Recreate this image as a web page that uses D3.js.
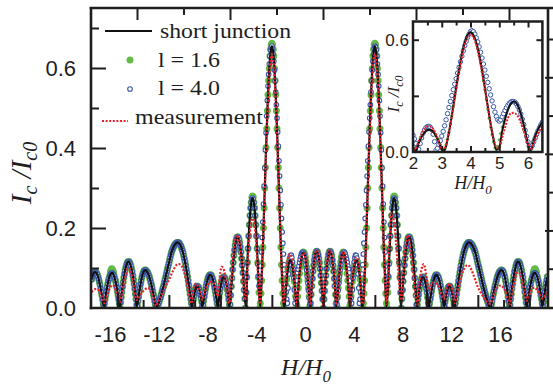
<!DOCTYPE html>
<html><head><meta charset="utf-8">
<script src="https://cdn.jsdelivr.net/npm/d3@7"></script>
<style>html,body{margin:0;padding:0;background:#fff;}svg{display:block;}</style>
</head><body>
<script>
// ---------- DATA ----------
// line grid H/H0 : -18.0 ... 17.4, step 0.1
const fieldH = d3.range(355).map(i => +(-18 + i * 0.1).toFixed(2));
// marker grid H/H0 : -18.00 ... 17.40, step 0.05
const markerH = d3.range(709).map(i => +(-18 + i * 0.05).toFixed(2));

const shortJunction = [
.072,.083,.089,.090,.086,.078,.065,.049,.031,.012,
.004,.032,.052,.068,.080,.086,.088,.084,.074,.060,
.042,.022,.002,.027,.053,.076,.094,.107,.115,.116,
.110,.098,.081,.060,.035,.002,.017,.040,.060,.077,
.088,.094,.095,.091,.085,.076,.064,.050,.034,.017,
.002,.004,.012,.022,.033,.045,.057,.071,.085,.099,
.112,.126,.139,.148,.155,.160,.163,.164,.162,.157,
.149,.138,.124,.107,.089,.068,.046,.023,.002,.021,
.038,.050,.055,.052,.041,.024,.003,.018,.038,.056,
.070,.079,.083,.081,.073,.060,.042,.022,.002,.026,
.049,.066,.076,.077,.070,.055,.033,.002,.032,.075,
.114,.145,.167,.177,.176,.163,.140,.107,.067,.023,
.004,.114,.180,.231,.264,.275,.264,.231,.180,.114,
.039,.003,.069,.152,.250,.351,.448,.533,.599,.640,
.655,.640,.599,.533,.448,.351,.250,.152,.069,.012,
.003,.056,.086,.108,.119,.118,.105,.081,.049,.003,
.029,.069,.102,.126,.138,.138,.126,.102,.069,.029,
.003,.055,.092,.120,.137,.142,.133,.113,.081,.043,
0,.043,.081,.113,.133,.142,.137,.120,.092,.055,
.003,.029,.069,.102,.126,.138,.138,.126,.102,.069,
.029,.003,.049,.081,.105,.118,.119,.108,.086,.056,
.003,.012,.069,.152,.250,.351,.448,.533,.599,.640,
.655,.640,.599,.533,.448,.351,.250,.152,.069,.003,
.039,.114,.180,.231,.264,.275,.264,.231,.180,.114,
.004,.023,.067,.107,.140,.163,.176,.177,.167,.145,
.114,.075,.032,.002,.033,.055,.070,.077,.076,.066,
.049,.026,.002,.022,.042,.060,.073,.081,.083,.079,
.070,.056,.038,.018,.003,.024,.041,.052,.055,.050,
.038,.021,.002,.023,.046,.068,.089,.107,.124,.138,
.149,.157,.162,.164,.163,.160,.155,.148,.139,.126,
.112,.099,.085,.071,.057,.045,.033,.022,.012,.004,
.002,.017,.034,.050,.064,.076,.085,.091,.095,.094,
.088,.077,.060,.040,.017,.002,.035,.060,.081,.098,
.110,.116,.115,.107,.094,.076,.053,.027,.002,.022,
.042,.060,.074,.084,.088,.086,.080,.068,.052,.032,
.004,.015,.040,.062,.078];

const measurement = [
.040,.043,.046,.047,.047,.046,.042,.036,.028,.018,
.012,.020,.030,.040,.048,.054,.057,.056,.050,.042,
.032,.022,.015,.028,.045,.062,.077,.090,.098,.100,
.095,.084,.068,.050,.030,.020,.022,.027,.033,.038,
.042,.045,.048,.050,.050,.047,.042,.034,.025,.015,
.005,.010,.018,.026,.032,.038,.044,.050,.057,.063,
.070,.077,.085,.092,.098,.104,.108,.110,.110,.108,
.104,.097,.088,.075,.060,.045,.030,.015,.012,.045,
.058,.061,.058,.052,.042,.030,.020,.028,.040,.050,
.058,.063,.065,.065,.064,.060,.052,.040,.030,.060,
.090,.103,.101,.092,.075,.055,.030,.012,.045,.088,
.128,.158,.176,.182,.176,.160,.135,.100,.060,.020,
.030,.095,.150,.190,.215,.224,.218,.192,.150,.095,
.035,.010,.067,.147,.242,.340,.434,.517,.581,.621,
.635,.621,.581,.517,.434,.340,.242,.147,.067,.012,
.030,.080,.115,.132,.135,.130,.115,.088,.050,.006,
.030,.070,.103,.126,.137,.136,.125,.103,.070,.030,
.008,.057,.094,.122,.140,.145,.136,.115,.083,.045,
.005,.045,.083,.115,.136,.145,.140,.122,.094,.057,
.008,.030,.070,.103,.127,.139,.139,.127,.103,.070,
.030,.006,.052,.086,.112,.126,.127,.115,.092,.060,
.010,.012,.067,.147,.242,.340,.434,.517,.581,.621,
.635,.621,.581,.517,.434,.340,.242,.147,.067,.010,
.050,.140,.205,.237,.232,.212,.180,.140,.098,.058,
.020,.025,.075,.120,.158,.180,.180,.165,.140,.110,
.080,.050,.022,.010,.040,.070,.092,.106,.110,.100,
.080,.058,.045,.050,.058,.062,.064,.063,.060,.056,
.050,.042,.033,.025,.022,.035,.048,.057,.060,.057,
.046,.030,.012,.022,.038,.052,.066,.078,.088,.096,
.102,.106,.107,.106,.102,.096,.088,.079,.070,.061,
.053,.046,.040,.034,.029,.024,.020,.016,.013,.011,
.012,.020,.030,.038,.045,.050,.054,.056,.056,.054,
.050,.044,.036,.026,.016,.010,.028,.046,.062,.076,
.086,.090,.089,.083,.073,.060,.045,.030,.018,.025,
.033,.040,.046,.050,.051,.049,.045,.040,.034,.028,
.024,.026,.030,.034,.038];

const l16 = [
.072,.078,.083,.086,.089,.090,.090,.089,.086,.083,.078,.072,.065,.058,.049,.040,.031,.021,.010,0,
.011,.022,.032,.042,.052,.060,.068,.074,.080,.090,.094,.098,.097,.093,.089,.080,.074,.068,.060,.052,
.042,.032,.022,.011,0,.014,.027,.040,.053,.065,.076,.085,.094,.101,.107,.112,.115,.116,.116,.114,
.110,.105,.098,.091,.081,.071,.060,.048,.035,.022,.008,.005,.017,.028,.040,.050,.060,.069,.077,.083,
.088,.092,.094,.095,.095,.093,.091,.089,.085,.081,.076,.070,.064,.057,.050,.042,.034,.026,.017,.009,
.004,.001,.004,.008,.012,.017,.022,.027,.033,.039,.045,.051,.057,.064,.071,.078,.085,.092,.099,.105,
.112,.119,.126,.133,.139,.144,.148,.152,.155,.158,.160,.162,.163,.164,.164,.164,.162,.160,.157,.154,
.149,.144,.138,.131,.124,.116,.107,.098,.089,.079,.068,.057,.046,.035,.023,.012,0,.010,.021,.030,
.038,.045,.050,.054,.055,.054,.052,.047,.041,.033,.024,.015,.004,.007,.018,.028,.038,.048,.056,.064,
.070,.076,.079,.082,.083,.083,.081,.077,.073,.067,.060,.051,.042,.032,.022,.011,0,.013,.026,.038,
.049,.058,.066,.072,.076,.078,.077,.075,.070,.063,.055,.045,.033,.021,.008,.009,.032,.054,.075,.096,
.114,.131,.145,.157,.167,.173,.177,.178,.176,.171,.163,.153,.140,.124,.107,.088,.067,.045,.023,0,
.039,.077,.114,.149,.180,.208,.231,.250,.264,.277,.280,.277,.264,.250,.231,.208,.180,.149,.114,.077,
.039,0,.012,.036,.069,.108,.152,.200,.250,.300,.351,.401,.448,.493,.533,.569,.599,.630,.647,.658,
.662,.658,.647,.630,.599,.569,.533,.493,.448,.401,.351,.300,.250,.200,.152,.108,.069,.036,.012,0,
.019,.038,.056,.072,.086,.098,.108,.115,.119,.120,.118,.113,.105,.094,.081,.066,.049,.030,.012,.005,
.029,.050,.069,.086,.102,.115,.126,.134,.138,.140,.138,.134,.126,.115,.102,.086,.069,.050,.029,.005,
.012,.034,.055,.074,.092,.107,.120,.130,.137,.141,.142,.139,.133,.124,.113,.098,.081,.063,.043,.022,
0,.022,.043,.063,.081,.098,.113,.124,.133,.139,.142,.141,.137,.130,.120,.107,.092,.074,.055,.034,
.012,.005,.029,.050,.069,.086,.102,.115,.126,.134,.138,.140,.138,.134,.126,.115,.102,.086,.069,.050,
.029,.005,.012,.030,.049,.066,.081,.094,.105,.113,.118,.120,.119,.115,.108,.098,.086,.072,.056,.038,
.019,0,.012,.036,.069,.108,.152,.200,.250,.300,.351,.401,.448,.493,.533,.569,.599,.630,.647,.658,
.662,.658,.647,.630,.599,.569,.533,.493,.448,.401,.351,.300,.250,.200,.152,.108,.069,.036,.012,0,
.039,.077,.114,.149,.180,.208,.231,.250,.264,.277,.280,.277,.264,.250,.231,.208,.180,.149,.114,.077,
.039,0,.023,.045,.067,.088,.107,.124,.140,.153,.163,.171,.176,.178,.177,.173,.167,.157,.145,.131,
.114,.096,.075,.054,.032,.009,.008,.021,.033,.045,.055,.063,.070,.075,.077,.078,.076,.072,.066,.058,
.049,.038,.026,.013,0,.011,.022,.032,.042,.051,.060,.067,.073,.077,.081,.083,.083,.082,.079,.076,
.070,.064,.056,.048,.038,.028,.018,.007,.004,.015,.024,.033,.041,.047,.052,.054,.055,.054,.050,.045,
.038,.030,.021,.010,0,.012,.023,.035,.046,.057,.068,.079,.089,.098,.107,.116,.124,.131,.138,.144,
.149,.154,.157,.160,.162,.164,.164,.164,.163,.162,.160,.158,.155,.152,.148,.144,.139,.133,.126,.119,
.112,.105,.099,.092,.085,.078,.071,.064,.057,.051,.045,.039,.033,.027,.022,.017,.012,.008,.004,.001,
.004,.009,.017,.026,.034,.042,.050,.057,.064,.070,.076,.081,.085,.089,.091,.093,.095,.095,.094,.092,
.088,.083,.077,.069,.060,.050,.040,.028,.017,.005,.008,.022,.035,.048,.060,.071,.081,.091,.098,.105,
.110,.114,.116,.116,.115,.112,.107,.101,.094,.085,.076,.065,.053,.040,.027,.014,0,.011,.022,.032,
.042,.052,.060,.068,.074,.080,.089,.093,.097,.098,.094,.090,.080,.074,.068,.060,.052,.042,.032,.022,
.011,.004,.015,.028,.040,.051,.062,.070,.078];

const l40 = [
.072,.078,.083,.086,.089,.090,.090,.089,.086,.083,.078,.072,.065,.058,.049,.040,.031,.021,.010,0,
.011,.022,.032,.042,.052,.060,.068,.074,.080,.084,.086,.088,.088,.086,.084,.080,.074,.068,.060,.052,
.042,.032,.022,.011,0,.014,.027,.040,.053,.065,.076,.085,.094,.101,.107,.112,.115,.116,.116,.114,
.110,.105,.098,.091,.081,.071,.060,.048,.035,.022,.008,.005,.017,.028,.040,.050,.060,.069,.077,.083,
.088,.092,.094,.095,.095,.093,.091,.089,.085,.081,.076,.070,.064,.057,.050,.042,.034,.026,.017,.009,
.004,.001,.004,.008,.012,.017,.022,.027,.033,.039,.045,.051,.057,.064,.071,.078,.085,.092,.099,.105,
.112,.119,.126,.133,.139,.144,.148,.152,.155,.158,.160,.162,.163,.164,.164,.164,.162,.160,.157,.154,
.149,.144,.138,.131,.124,.116,.107,.098,.089,.079,.068,.057,.046,.035,.023,.012,0,.010,.021,.030,
.038,.045,.050,.054,.055,.054,.052,.047,.041,.033,.024,.015,.004,.007,.018,.028,.038,.048,.056,.064,
.070,.076,.079,.082,.083,.083,.081,.077,.073,.067,.060,.051,.042,.032,.022,.011,0,.013,.026,.038,
.049,.058,.066,.072,.076,.078,.077,.075,.070,.063,.055,.045,.033,.021,.008,.009,.032,.054,.075,.096,
.114,.131,.145,.157,.167,.173,.177,.178,.176,.171,.163,.153,.140,.124,.107,.088,.067,.045,.023,0,
.039,.077,.114,.149,.180,.208,.231,.250,.264,.272,.275,.272,.264,.250,.231,.208,.180,.148,.110,.080,
.055,.060,.075,.105,.140,.176,.215,.260,.305,.350,.395,.438,.480,.519,.555,.584,.610,.630,.645,.652,
.655,.648,.635,.617,.595,.568,.540,.508,.475,.440,.405,.368,.330,.294,.258,.224,.190,.162,.135,.108,
.085,.060,.040,.022,.012,.050,.085,.108,.125,.131,.132,.126,.115,.097,.075,.045,.012,.025,.045,.068,
.088,.097,.105,.114,.122,.129,.135,.138,.140,.138,.135,.128,.120,.108,.095,.079,.062,.044,.025,.008,
.012,.034,.055,.074,.092,.107,.120,.130,.137,.141,.142,.139,.133,.124,.113,.098,.081,.063,.043,.022,
0,.022,.043,.063,.081,.098,.113,.124,.133,.139,.142,.141,.137,.130,.120,.107,.092,.074,.055,.034,
.012,.008,.025,.044,.062,.079,.095,.108,.120,.128,.135,.138,.140,.138,.135,.129,.122,.114,.105,.097,
.088,.068,.045,.025,.012,.045,.075,.097,.115,.126,.132,.131,.125,.108,.085,.050,.012,.022,.040,.060,
.085,.108,.135,.162,.190,.224,.258,.294,.330,.368,.405,.440,.475,.508,.540,.568,.595,.617,.635,.648,
.655,.652,.645,.630,.610,.584,.555,.519,.480,.438,.395,.350,.305,.260,.215,.176,.140,.105,.075,.060,
.055,.080,.110,.148,.180,.208,.231,.250,.264,.272,.275,.272,.264,.250,.231,.208,.180,.149,.114,.077,
.039,0,.023,.045,.067,.088,.107,.124,.140,.153,.163,.171,.176,.178,.177,.173,.167,.157,.145,.131,
.114,.096,.075,.054,.032,.009,.008,.021,.033,.045,.055,.063,.070,.075,.077,.078,.076,.072,.066,.058,
.049,.038,.026,.013,0,.011,.022,.032,.042,.051,.060,.067,.073,.077,.081,.083,.083,.082,.079,.076,
.070,.064,.056,.048,.038,.028,.018,.007,.004,.015,.024,.033,.041,.047,.052,.054,.055,.054,.050,.045,
.038,.030,.021,.010,0,.012,.023,.035,.046,.057,.068,.079,.089,.098,.107,.116,.124,.131,.138,.144,
.149,.154,.157,.160,.162,.164,.164,.164,.163,.162,.160,.158,.155,.152,.148,.144,.139,.133,.126,.119,
.112,.105,.099,.092,.085,.078,.071,.064,.057,.051,.045,.039,.033,.027,.022,.017,.012,.008,.004,.001,
.004,.009,.017,.026,.034,.042,.050,.057,.064,.070,.076,.081,.085,.089,.091,.093,.095,.095,.094,.092,
.088,.083,.077,.069,.060,.050,.040,.028,.017,.005,.008,.022,.035,.048,.060,.071,.081,.091,.098,.105,
.110,.114,.116,.116,.115,.112,.107,.101,.094,.085,.076,.065,.053,.040,.027,.014,0,.011,.022,.032,
.042,.052,.060,.068,.074,.080,.084,.086,.088,.088,.086,.084,.080,.074,.068,.060,.052,.042,.032,.022,
.011,.004,.015,.028,.040,.051,.062,.070,.078];

// inset grids
const insetH10 = d3.range(46).map(i => +(2 + i * 0.1).toFixed(2));
const insetH05 = d3.range(91).map(i => +(2 + i * 0.05).toFixed(2));

const insetShort = [.029,.004,.049,.081,.105,.118,.119,.108,.086,.056,
.012,.010,.067,.148,.244,.343,.438,.521,.585,.625,
.640,.625,.585,.520,.438,.343,.245,.150,.068,.012,
.025,.110,.175,.225,.258,.270,.260,.228,.178,.113,
.040,.010,.062,.103,.136,.160];

const insetMeas = [.010,.020,.060,.095,.122,.137,.138,.123,.095,.055,
.012,.020,.070,.145,.235,.330,.425,.510,.575,.613,
.626,.613,.572,.508,.425,.333,.240,.150,.075,.025,
.020,.075,.130,.180,.207,.210,.200,.175,.135,.088,
.038,.012,.050,.085,.115,.140];

const insetL16 = [.030,.012,.005,.028,.050,.067,.082,.095,.106,.113,
.118,.120,.119,.115,.107,.097,.085,.071,.054,.036,
.017,.003,.015,.038,.068,.105,.148,.195,.244,.293,
.343,.391,.438,.481,.521,.555,.585,.608,.625,.636,
.640,.636,.625,.608,.583,.553,.516,.475,.430,.382,
.332,.281,.230,.181,.134,.092,.055,.022,.004,.030,
.065,.100,.133,.163,.190,.213,.233,.249,.260,.267,
.270,.268,.261,.248,.229,.205,.176,.143,.107,.069,
.033,.005,.020,.045,.068,.088,.107,.124,.140,.153,.163];

const insetL40 = [.090,.070,.045,.020,.015,.045,.075,.100,.118,.130,
.136,.137,.133,.120,.095,.055,.010,.020,.040,.060,
.085,.110,.140,.172,.205,.238,.270,.302,.333,.362,
.392,.422,.452,.482,.512,.540,.568,.592,.613,.630,
.643,.648,.643,.630,.610,.588,.562,.533,.502,.470,
.438,.405,.372,.338,.305,.273,.242,.213,.190,.172,
.165,.172,.188,.205,.222,.237,.250,.260,.267,.270,
.270,.266,.257,.243,.225,.202,.176,.147,.116,.084,
.054,.030,.022,.035,.055,.075,.095,.113,.130,.146,.160];

const bottomLabels = [-16,-12,-8,-4,0,4,8,12,16];
const yLabels = [0, 0.2, 0.4, 0.6];
const insetXLabels = [2,3,4,5,6];
const insetYLabels = [0, 0.6];
const legendItems = ["short junction","l = 1.6","l = 4.0","measurement"];

// ---------- DRAW ----------
const SANS = "'Liberation Sans', Arial, sans-serif";
const SERIF = "'Liberation Serif', 'Times New Roman', serif";
const INK = "#1e1e1e";
const GREEN = "#63bb47", BLUE = "#3a58a8", RED = "#e8232b";

const svg = d3.select("body").append("svg").attr("width",553).attr("height",388);

const x = d3.scaleLinear().domain([-18.05,17.45]).range([91,548]);
const y = d3.scaleLinear().domain([0,0.7]).range([308,28]);
const xTop = d3.scaleLinear().domain([-16,16]).range([137,509]);
const xLab = d3.scaleLinear().domain([-16,16]).range([110,500]);
const yRight = d3.scaleLinear().domain([0,0.7]).range([307,39]);

svg.append("clipPath").attr("id","clipMain").append("rect")
  .attr("x",91).attr("y",8).attr("width",457).attr("height",300);

const gData = svg.append("g").attr("clip-path","url(#clipMain)");

gData.selectAll("circle.g").data(l16.map((v,i)=>[markerH[i],v])).join("circle")
  .attr("cx",d=>x(d[0])).attr("cy",d=>y(d[1])).attr("r",3.5).attr("fill",GREEN);
gData.selectAll("circle.b").data(l40.map((v,i)=>[markerH[i],v])).join("circle")
  .attr("cx",d=>x(d[0])).attr("cy",d=>y(d[1])).attr("r",2.3)
  .attr("fill","#fff").attr("stroke",BLUE).attr("stroke-width",1.1);
const lineMain = d3.line().x(d=>x(d[0])).y(d=>y(d[1])).curve(d3.curveMonotoneX);
gData.append("path").attr("d",lineMain(shortJunction.map((v,i)=>[fieldH[i],v])))
  .attr("fill","none").attr("stroke","#111").attr("stroke-width",2.2);
gData.append("path").attr("d",lineMain(measurement.map((v,i)=>[fieldH[i],v])))
  .attr("fill","none").attr("stroke",RED).attr("stroke-width",2.2).attr("stroke-dasharray","2,1.6");

function tickAxis(gen, tx, ty){
  const g = svg.append("g").attr("transform",`translate(${tx},${ty})`).call(gen);
  g.select(".domain").remove();
  g.selectAll("line").attr("stroke",INK).attr("stroke-width",2);
  g.selectAll("text").remove();
  return g;
}
tickAxis(d3.axisTop(x).tickValues([-16,-12,-8,-4,0,4,8,12,16]).tickSize(13), 0, 308);
tickAxis(d3.axisTop(x).tickValues([-14,-10,-6,-2,2,6,10,14]).tickSize(8), 0, 308);
tickAxis(d3.axisBottom(xTop).tickValues([-16,-8,0,8,16]).tickSize(12), 0, 8);
tickAxis(d3.axisBottom(xTop).tickValues([-12,-4,4,12]).tickSize(7), 0, 8);
tickAxis(d3.axisRight(y).tickValues([0.2,0.4,0.6]).tickSize(15), 91, 0);
tickAxis(d3.axisRight(y).tickValues([0.1,0.3,0.5,0.7]).tickSize(8), 91, 0);
tickAxis(d3.axisLeft(yRight).tickValues([0.2,0.4,0.6]).tickSize(8), 553, 0);
tickAxis(d3.axisLeft(yRight).tickValues([0.1,0.3,0.5,0.7]).tickSize(6), 553, 0);

const frame = svg.append("g").attr("stroke",INK).attr("stroke-width",2.6).attr("fill","none");
frame.append("line").attr("x1",91).attr("y1",7).attr("x2",91).attr("y2",309.3);
frame.append("line").attr("x1",89.7).attr("y1",308).attr("x2",553).attr("y2",308);
frame.append("line").attr("x1",89.7).attr("y1",8).attr("x2",553).attr("y2",8);
frame.append("line").attr("x1",548).attr("y1",8).attr("x2",548).attr("y2",308);

const gyl = svg.append("g").attr("transform","translate(91,0)")
  .call(d3.axisLeft(y).tickValues(yLabels).tickSize(0).tickPadding(15).tickFormat(d3.format(".1f")));
gyl.select(".domain").remove();
gyl.selectAll("text").attr("fill",INK).style("font-family",SANS).style("font-size","22px");

const gxl = svg.append("g").attr("transform","translate(0,308)")
  .call(d3.axisBottom(xLab).tickValues(bottomLabels).tickSize(0).tickPadding(18).tickFormat(d=>String(d)));
gxl.select(".domain").remove();
gxl.selectAll("text").attr("fill",INK).style("font-family",SANS).style("font-size","22px");

const yt = svg.append("text").attr("transform","translate(31,173) rotate(-90)")
  .attr("text-anchor","middle").attr("fill",INK)
  .style("font-family",SERIF).style("font-style","italic").style("font-size","29px");
yt.append("tspan").text("I");
yt.append("tspan").attr("dy",6).style("font-size","20px").text("c");
yt.append("tspan").attr("dy",-6).text(" /I");
yt.append("tspan").attr("dy",6).style("font-size","20px").text("c0");

const xt = svg.append("text").attr("x",306).attr("y",375).attr("text-anchor","middle").attr("fill",INK)
  .style("font-family",SERIF).style("font-style","italic").style("font-size","24px");
xt.append("tspan").text("H/H");
xt.append("tspan").attr("dy",7).style("font-size","17px").text("0");

const lg = svg.append("g");
lg.append("line").attr("x1",105).attr("x2",152).attr("y1",31).attr("y2",31).attr("stroke","#111").attr("stroke-width",2);
lg.append("circle").attr("cx",130).attr("cy",60).attr("r",3.5).attr("fill",GREEN);
lg.append("circle").attr("cx",130).attr("cy",89).attr("r",2.3).attr("fill","#fff").attr("stroke",BLUE).attr("stroke-width",1.1);
lg.append("line").attr("x1",102).attr("x2",128).attr("y1",121).attr("y2",121)
  .attr("stroke",RED).attr("stroke-width",2.2).attr("stroke-dasharray","2,1.6");
const legPos = [[160,38,131],[158,67,62],[158,95,62],[135,124,128]];
lg.selectAll("text.leg").data(legendItems).join("text")
  .attr("x",(d,i)=>legPos[i][0]).attr("y",(d,i)=>legPos[i][1])
  .attr("textLength",(d,i)=>legPos[i][2]).attr("lengthAdjust","spacingAndGlyphs")
  .attr("fill",INK).style("font-family",SERIF).style("font-size","22px").text(d=>d);

// ---------- INSET ----------
const ix = d3.scaleLinear().domain([2,6.5]).range([413,542.4]);
const iy = d3.scaleLinear().domain([0,0.7]).range([152,21]);
svg.append("rect").attr("x",413).attr("y",21.5).attr("width",129.4).attr("height",130.5).attr("fill","#fff");
svg.append("clipPath").attr("id","clipIn").append("rect")
  .attr("x",413).attr("y",21.5).attr("width",129.4).attr("height",130.5);
const gi = svg.append("g").attr("clip-path","url(#clipIn)");
gi.selectAll("circle.g").data(insetL16.map((v,i)=>[insetH05[i],v])).join("circle")
  .attr("cx",d=>ix(d[0])).attr("cy",d=>iy(d[1])).attr("r",1.6).attr("fill",GREEN);
gi.selectAll("circle.b").data(insetL40.map((v,i)=>[insetH05[i],v])).join("circle")
  .attr("cx",d=>ix(d[0])).attr("cy",d=>iy(d[1])).attr("r",2.2)
  .attr("fill","#fff").attr("stroke",BLUE).attr("stroke-width",1);
const lineIn = d3.line().x(d=>ix(d[0])).y(d=>iy(d[1])).curve(d3.curveMonotoneX);
gi.append("path").attr("d",lineIn(insetShort.map((v,i)=>[insetH10[i],v])))
  .attr("fill","none").attr("stroke","#111").attr("stroke-width",2);
gi.append("path").attr("d",lineIn(insetMeas.map((v,i)=>[insetH10[i],v])))
  .attr("fill","none").attr("stroke",RED).attr("stroke-width",2).attr("stroke-dasharray","2,1.4");

tickAxis(d3.axisBottom(ix).tickValues([3,4,5,6]).tickSize(6), 0, 21.5);
tickAxis(d3.axisBottom(ix).tickValues([2.5,3.5,4.5,5.5]).tickSize(4), 0, 21.5);
tickAxis(d3.axisTop(ix).tickValues([3,4,5,6]).tickSize(6), 0, 152);
tickAxis(d3.axisTop(ix).tickValues([2.5,3.5,4.5,5.5]).tickSize(4), 0, 152);
tickAxis(d3.axisRight(iy).tickValues([0.3,0.6]).tickSize(6), 413, 0);
tickAxis(d3.axisLeft(iy).tickValues([0.3,0.6]).tickSize(6), 542.4, 0);
svg.append("rect").attr("x",413).attr("y",21.5).attr("width",129.4).attr("height",130.5)
  .attr("fill","none").attr("stroke",INK).attr("stroke-width",2.5);

const gixl = svg.append("g").attr("transform","translate(0,152)")
  .call(d3.axisBottom(ix).tickValues(insetXLabels).tickSize(0).tickPadding(5).tickFormat(d=>String(d)));
gixl.select(".domain").remove();
gixl.selectAll("text").attr("fill",INK).style("font-family",SANS).style("font-size","17px");
const giyl = svg.append("g").attr("transform","translate(413,0)")
  .call(d3.axisLeft(iy).tickValues(insetYLabels).tickSize(0).tickPadding(4).tickFormat(d3.format(".1f")));
giyl.select(".domain").remove();
giyl.selectAll("text").attr("fill",INK).style("font-family",SANS).style("font-size","17px");

const iyt = svg.append("text").attr("transform","translate(399,94) rotate(-90)")
  .attr("text-anchor","middle").attr("fill",INK)
  .style("font-family",SERIF).style("font-style","italic").style("font-size","17px");
iyt.append("tspan").text("I");
iyt.append("tspan").attr("dy",4).style("font-size","12px").text("c");
iyt.append("tspan").attr("dy",-4).text(" /I");
iyt.append("tspan").attr("dy",4).style("font-size","12px").text("c0");

const ixt = svg.append("text").attr("x",473).attr("y",189).attr("text-anchor","middle").attr("fill",INK)
  .style("font-family",SERIF).style("font-style","italic").style("font-size","18px");
ixt.append("tspan").text("H/H");
ixt.append("tspan").attr("dy",5).style("font-size","13px").text("0");
</script>
</body></html>
